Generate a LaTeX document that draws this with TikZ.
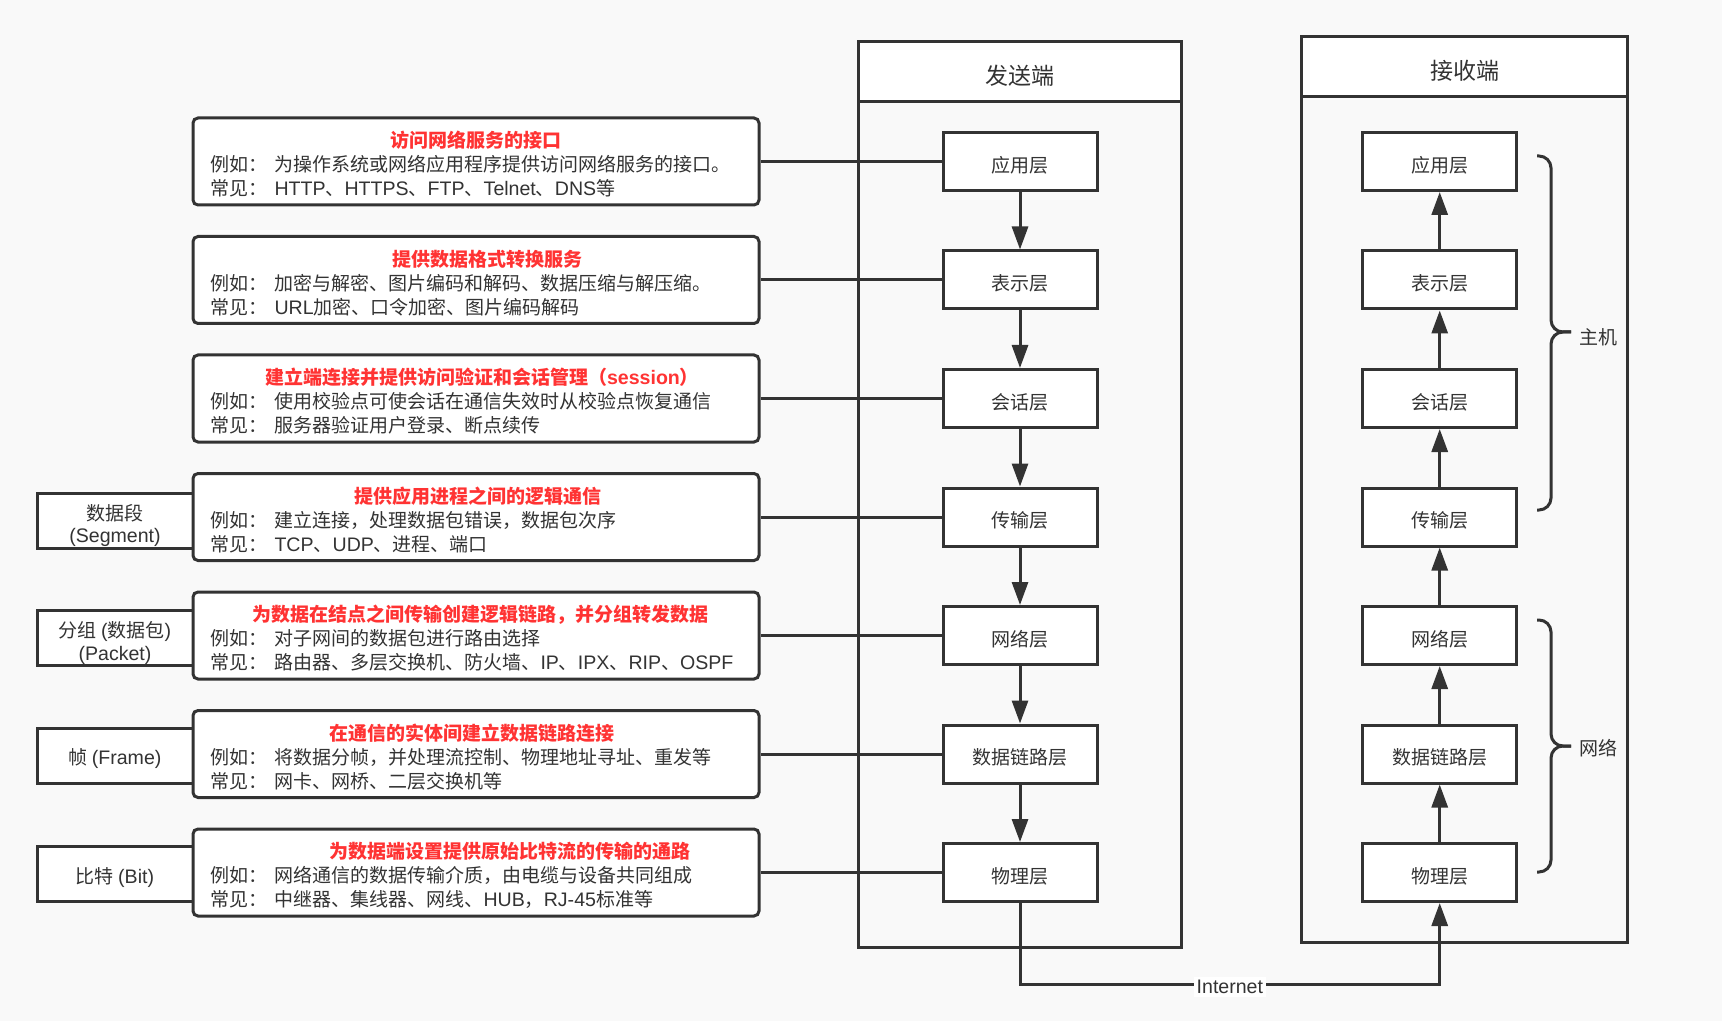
\documentclass[tikz,border=0pt]{standalone}
\usepackage{fontspec}
\setmainfont{Noto Sans CJK SC}
\newfontfamily\latf{Liberation Sans}[Scale=1.03]
\newcommand\lat[1]{{\latf #1}}
\usetikzlibrary{arrows.meta}
\definecolor{bg}{HTML}{F9F9F9}
\definecolor{ink}{HTML}{333333}
\definecolor{titlered}{HTML}{FF3333}
\newcommand\fsz{\fontsize{9.5pt}{12pt}\selectfont}
\newcommand\fhead{\fontsize{11.5pt}{14pt}\selectfont}
\begin{document}
\begin{tikzpicture}[x=0.5pt,y=-0.5pt,color=ink,line width=1.5pt,
  layer/.style={draw,fill=white,minimum width=77pt,minimum height=29pt,inner sep=0pt},
  desc/.style={draw,fill=white,rounded corners=2.5pt,minimum width=283pt,minimum height=43.5pt,inner sep=0pt},
  unitbox/.style={draw,fill=white,minimum width=78pt,minimum height=27.5pt,inner sep=0pt},
  ttl/.style={text=titlered,font=\fsz\bfseries,inner sep=0pt},
  txt/.style={anchor=west,inner sep=0pt,font=\fsz},
  arr/.style={-{Triangle[length=11.5pt,width=8pt]}},
  lbl/.style={inner sep=0pt,font=\fsz}]
\useasboundingbox (0,0) rectangle (1722,1021);
\fill[bg] (0,0) rectangle (1722,1021);
% containers
\node[draw,minimum width=161.75pt,minimum height=452.5pt,inner sep=0pt] (sendbox) at (1019.75,494.5) {};
\node[draw,fill=white,minimum width=161.75pt,minimum height=29.75pt,inner sep=0pt] (sendhead) at (1019.75,71.75) {};
\node[lbl,font=\fhead] (sendt) at (1019.75,76) {发送端};
\node[draw,minimum width=163pt,minimum height=452.65pt,inner sep=0pt] (recvbox) at (1464.5,489.65) {};
\node[draw,fill=white,minimum width=163pt,minimum height=30pt,inner sep=0pt] (recvhead) at (1464.5,67) {};
\node[lbl,font=\fhead] (recvt) at (1464.5,70.8) {接收端};
% layers
\foreach \i/\nm in {1/应用层,2/表示层,3/会话层,4/传输层,5/网络层,6/数据链路层,7/物理层}{
  \pgfmathsetmacro\yy{161.5+118.5*(\i-1)}
  \node[layer] (s\i) at (1020,\yy) {};
  \node[lbl] (st\i) at (1020,\yy+3.5) {\nm};
  \node[layer] (r\i) at (1439.7,\yy) {};
  \node[lbl] (rt\i) at (1439.7,\yy+3.5) {\nm};
}
\foreach \i [evaluate=\i as \j using int(\i+1)] in {1,...,6}{
  \draw[arr] (s\i) -- (s\j);
  \draw[arr] (r\j) -- (r\i);
}
% unit boxes
\node[unitbox] (u4) at (115,521) {};
\node[lbl] (u4a) at (115,512.8) {数据段};
\node[lbl] (u4b) at (115,537.5) {\lat{(Segment)}};
\node[unitbox] (u5) at (115,637.5) {};
\node[lbl] (u5a) at (115,631) {分组 \lat{(}数据包\lat{)}};
\node[lbl] (u5b) at (115,655) {\lat{(Packet)}};
\node[unitbox] (u6) at (115,755.5) {};
\node[lbl] (u6a) at (115,759) {帧 \lat{(Frame)}};
\node[unitbox] (u7) at (115,874) {};
\node[lbl] (u7a) at (115,877.7) {比特 \lat{(Bit)}};
% description boxes
\foreach \i/\tx/\ti/\ea/\eb in {
 1/476/访问网络服务的接口/为操作系统或网络应用程序提供访问网络服务的接口。/\lat{HTTP}、\lat{HTTPS}、\lat{FTP}、\lat{Telnet}、\lat{DNS}等,
 2/487.5/提供数据格式转换服务/加密与解密、图片编码和解码、数据压缩与解压缩。/\lat{URL}加密、口令加密、图片编码解码,
 3/482/建立端连接并提供访问验证和会话管理（\lat{session}）/使用校验点可使会话在通信失效时从校验点恢复通信/服务器验证用户登录、断点续传,
 4/477.6/提供应用进程之间的逻辑通信/建立连接，处理数据包错误，数据包次序/\lat{TCP}、\lat{UDP}、进程、端口,
 5/480.6/为数据在结点之间传输创建逻辑链路，并分组转发数据/对子网间的数据包进行路由选择/路由器、多层交换机、防火墙、\lat{IP}、\lat{IPX}、\lat{RIP}、\lat{OSPF},
 6/472/在通信的实体间建立数据链路连接/将数据分帧，并处理流控制、物理地址寻址、重发等/网卡、网桥、二层交换机等,
 7/510/为数据端设置提供原始比特流的传输的通路/网络通信的数据传输介质，由电缆与设备共同组成/中继器、集线器、网线、\lat{HUB}，\lat{RJ-45}标准等}{
  \pgfmathsetmacro\yy{161.5+118.5*(\i-1)}
  \node[desc] (d\i) at (476,\yy) {};
  \node[ttl] (dt\i) at (\tx,\yy-21) {\ti};
  \node[txt] (da\i) at (209,\yy+3) {例如：};
  \node[txt] (db\i) at (273,\yy+3) {\ea};
  \node[txt] (dc\i) at (209,\yy+27) {常见：};
  \node[txt] (dd\i) at (273,\yy+27) {\eb};
  \draw (d\i) -- (s\i);
}
% internet link
\coordinate (ia) at (1020,984);
\coordinate (ib) at (1439.7,984);
\draw[arr] (s7.south) -- (ia) -- node[fill=white,inner sep=1.5pt,font=\fsz,yshift=-1.5pt] (inet) {\lat{Internet}} (ib) -- (r7.south);
% braces
\draw[rounded corners=6pt] (1537,156) -- (1551,156) -- (1551,332) -- (1571,332);
\draw[rounded corners=6pt] (1571,332) -- (1551,332) -- (1551,510) -- (1537,510);
\draw[rounded corners=6pt] (1537,620) -- (1551,620) -- (1551,746) -- (1571,746);
\draw[rounded corners=6pt] (1571,746) -- (1551,746) -- (1551,872) -- (1537,872);
\node[lbl] (lh) at (1598,337) {主机};
\node[lbl] (ln) at (1598,748) {网络};
\end{tikzpicture}
\end{document}
